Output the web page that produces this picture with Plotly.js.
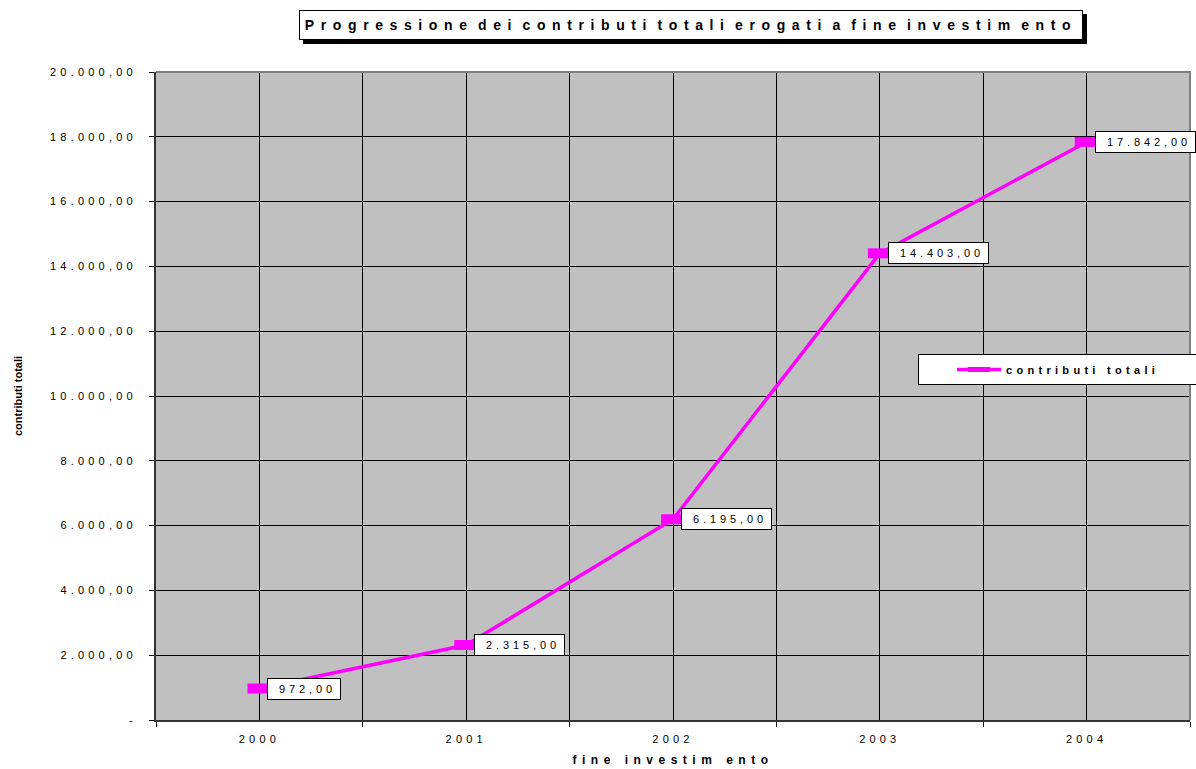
<!DOCTYPE html>
<html><head><meta charset="utf-8">
<script src="https://cdn.plot.ly/plotly-3.0.1.min.js"></script>
<style>html,body{margin:0;padding:0;background:#fff}#chart{width:1196px;height:769px}</style>
</head><body><div id="chart"></div>
<script>
// ---- data ----
const years = [2000, 2001, 2002, 2003, 2004];
const contributi = [972, 2315, 6195, 14403, 17842];
const seriesName = 'contributi totali';
const chartTitle = 'Progressione dei contributi totali erogati a fine investim ento';
const xTitle = 'fine investim ento';
const yTitle = 'contributi totali';
const yTickVals = [0, 2000, 4000, 6000, 8000, 10000, 12000, 14000, 16000, 18000, 20000];

// ---- helpers ----
const FONT = 'Liberation Sans, Arial, sans-serif';
function itNum(v) {
  const parts = v.toFixed(2).split('.');
  return parts[0].replace(/\B(?=(\d{3})+(?!\d))/g, '.') + ',' + parts[1];
}
function sp(t, ls, ws) {
  let st = 'letter-spacing:' + ls + 'px';
  if (ws !== undefined) st += ';word-spacing:' + ws + 'px';
  return '<span style="' + st + '">' + t + '</span>';
}
const PL = 156, PR = 1190, PT = 72, PB = 720;
const px2x = p => (p - PL) / (PR - PL);
const py2y = p => (PB - p) / (PB - PT);

const yTickText = yTickVals.map(v => sp(v === 0 ? '-' : itNum(v), 4.2));
const xTickText = years.map(y => sp(String(y), 4.2));

const trace = {
  type: 'scatter',
  mode: 'lines+markers',
  x: years,
  y: contributi,
  name: sp(seriesName, 4.3),
  line: {color: '#FF00FF', width: 3.5},
  marker: {symbol: 'line-ew', size: 17, color: '#FF00FF', line: {width: 10, color: '#FF00FF'}},
  cliponaxis: false,
  hoverinfo: 'skip'
};

const labelAnnotations = years.map((yr, i) => ({
  x: yr, y: contributi[i], xref: 'x', yref: 'y',
  text: sp('\u00a0' + itNum(contributi[i]), 3.9),
  showarrow: false, xanchor: 'left', yanchor: 'middle', xshift: 8,
  bgcolor: '#ffffff', bordercolor: '#000000', borderwidth: 1, borderpad: 4,
  font: {family: FONT, size: 11, color: '#000'}
}));

const titleAnnotation = {
  xref: 'paper', yref: 'paper', x: px2x(691), y: py2y(25),
  xanchor: 'center', yanchor: 'middle',
  text: sp(chartTitle, 6.6, -6),
  showarrow: false, width: 778, height: 24, borderpad: 2,
  bgcolor: '#ffffff', bordercolor: '#000000', borderwidth: 1,
  font: {family: FONT, size: 14, color: '#000', weight: 'bold'}
};

const layout = {
  width: 1196, height: 769,
  margin: {l: PL, r: 1196 - PR, t: PT, b: 769 - PB, pad: 0, autoexpand: false},
  paper_bgcolor: '#ffffff',
  plot_bgcolor: '#C0C0C0',
  font: {family: FONT, color: '#000'},
  showlegend: true,
  legend: {
    orientation: 'h', x: px2x(918), y: py2y(354), xanchor: 'left', yanchor: 'top',
    bgcolor: '#ffffff', bordercolor: '#000000', borderwidth: 1,
    font: {family: FONT, size: 11, color: '#000', weight: 'bold'},
    entrywidth: 300, entrywidthmode: 'pixels', indentation: 33, itemwidth: 44
  },
  xaxis: {
    range: [1999.5, 2004.5], type: 'linear',
    tickvals: years, ticktext: xTickText, ticks: '',
    tickfont: {family: FONT, size: 11, color: '#000'},
    ticklabelstandoff: 8,
    showgrid: true, gridcolor: '#000', gridwidth: 1,
    minor: {tick0: 1999.5, dtick: 1, ticks: 'outside', ticklen: 5, tickcolor: '#000', tickwidth: 1,
            showgrid: true, gridcolor: '#000', gridwidth: 1},
    showline: true, linecolor: '#333', linewidth: 2, zeroline: false,
    title: {text: sp(xTitle, 5.5), standoff: 11, font: {family: FONT, size: 12, color: '#000', weight: 'bold'}}
  },
  yaxis: {
    range: [0, 20000],
    tickvals: yTickVals, ticktext: yTickText,
    ticks: 'outside', ticklen: 5, tickcolor: '#000', tickwidth: 1,
    tickfont: {family: FONT, size: 11, color: '#000'},
    ticklabelstandoff: 10,
    showgrid: true, gridcolor: '#000', gridwidth: 1,
    showline: true, linecolor: '#333', linewidth: 2, zeroline: false,
    title: {text: yTitle, standoff: 25, font: {family: FONT, size: 11, color: '#000', weight: 'bold'}}
  },
  shapes: [
    {type: 'path', xref: 'paper', yref: 'paper', path: 'M0,1 L1,1 L1,0', line: {color: '#808080', width: 2}, layer: 'above'},
    {type: 'rect', xref: 'paper', yref: 'paper', x0: px2x(303), x1: px2x(1087), y0: py2y(44), y1: py2y(14),
     fillcolor: '#000', line: {width: 0}, layer: 'above'}
  ],
  annotations: [titleAnnotation].concat(labelAnnotations)
};

Plotly.newPlot('chart', [trace], layout, {staticPlot: true, displayModeBar: false});
</script></body></html>
